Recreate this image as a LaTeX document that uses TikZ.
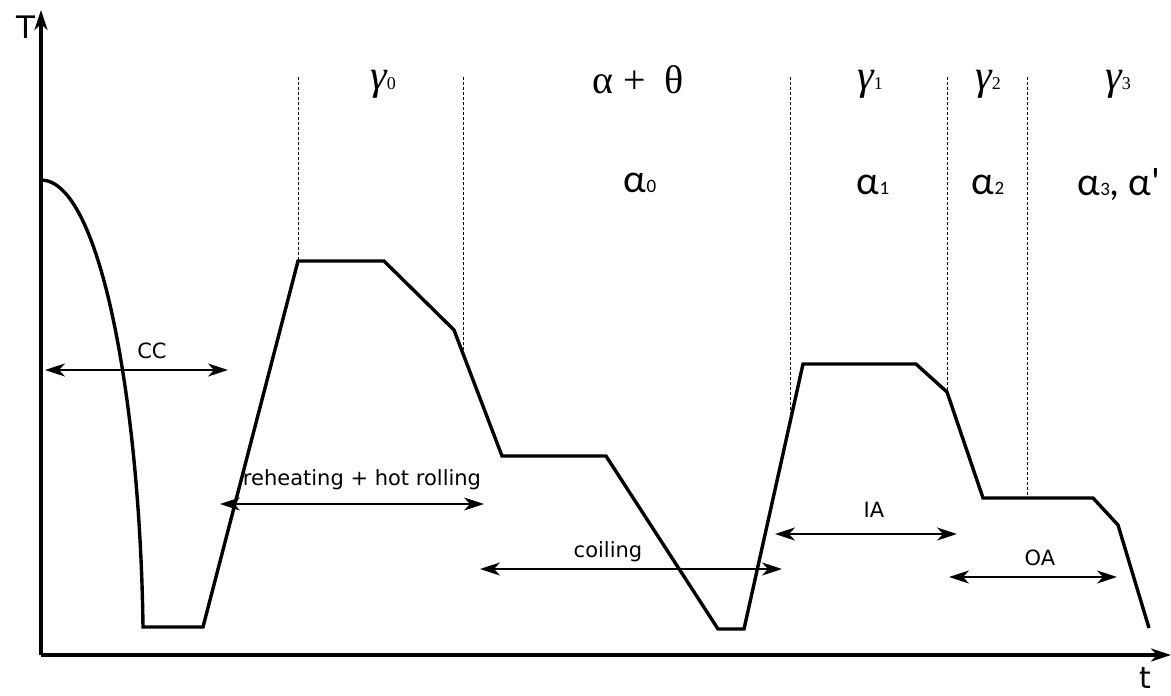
\documentclass[tikz,border=0pt]{standalone}
\usepackage{fontspec}
\setmainfont{DejaVu Sans}
\newfontfamily\grkserif{Liberation Serif}
\newfontfamily\grksans{Carlito}
\usepackage{tikz}
\usetikzlibrary{arrows.meta}
\tikzset{>={Stealth[length=20pt,width=13pt,inset=6pt]}}
\tikzset{
  curve/.style={line width=3.4pt,line join=miter},
  span/.style={<->,line width=2.4pt},
  axis/.style={->,line width=3.4pt},
  phaseline/.style={line width=1pt,dash pattern=on 3pt off 2pt},
  lbl/.style={font=\fontsize{21}{24}\selectfont,inner sep=1pt},
  phase/.style={inner sep=1pt},
}
\newcommand{\gam}[1]{{\grkserif\itshape\fontsize{42}{44}\selectfont γ}{\grkserif\fontsize{18}{18}\selectfont #1}}
\newcommand{\alf}[1]{{\grksans\fontsize{40}{42}\selectfont α}{\grksans\fontsize{19}{19}\selectfont #1}}

\begin{document}
\begin{tikzpicture}[x=1pt,y=-1pt]
\useasboundingbox (0,0) rectangle (1171,696);
% axes
\coordinate (O) at (41,655);
\coordinate (Ttop) at (41,10);
\coordinate (tend) at (1171,655);
\draw[axis] (O) -- (Ttop);
\draw[axis] (O) -- (tend);
\node[font=\fontsize{31}{33}\selectfont,anchor=base,inner sep=0pt] (T) at (26,38) {T};
\node[font=\fontsize{30}{32}\selectfont,anchor=base,inner sep=0pt] (t) at (1145,688) {t};
% phase boundaries
\draw[phaseline] (298,77) -- (298,261);
\draw[phaseline] (463,77) -- (463,353);
\draw[phaseline] (790,77) -- (790,418);
\draw[phaseline] (947,77) -- (947,392);
\draw[phaseline] (1027,77) -- (1027,498);
% thermal path
\draw[curve] (41,180) .. controls (100,180) and (140,400) .. (143,627)
  -- (203,627) -- (298,261) -- (384,261) -- (454,330) -- (502,456)
  -- (606,456) -- (718,629) -- (744,629) -- (803,364) -- (916,364)
  -- (947,392) -- (983,498) -- (1093,498) -- (1118,525) -- (1149,628);
% phases
\node[phase] (g0) at (383,84) {\gam{0}};
\node[phase,font=\grkserif\fontsize{40}{42}\selectfont] (at) at (638,80) {α\hspace{10pt}+\hspace{18pt}θ};
\node[phase] (a0) at (640,183) {\alf{0}};
\node[phase] (g1) at (870,84) {\gam{1}};
\node[phase] (a1) at (873,185) {\alf{1}};
\node[phase] (g2) at (988,84) {\gam{2}};
\node[phase] (a2) at (988,185) {\alf{2}};
\node[phase] (g3) at (1118,84) {\gam{3}};
\node[phase] (a3) at (1119,185) {\alf{3}{\grksans\fontsize{40}{42}\selectfont, α'}};
% process steps
\coordinate (cc1) at (45,370);   \coordinate (cc2) at (228,370);
\coordinate (rh1) at (220,504);  \coordinate (rh2) at (484,504);
\coordinate (co1) at (480,569);  \coordinate (co2) at (782,569);
\coordinate (ia1) at (775,534);  \coordinate (ia2) at (957,534);
\coordinate (oa1) at (949,577);  \coordinate (oa2) at (1117,577);
\draw[span] (cc1) -- (cc2);
\draw[span] (rh1) -- (rh2);
\draw[span] (co1) -- (co2);
\draw[span] (ia1) -- (ia2);
\draw[span] (oa1) -- (oa2);
\node[lbl] (cc) at (152,351) {CC};
\node[lbl] (rh) at (362,480) {reheating + hot rolling};
\node[lbl] (co) at (608,552) {coiling};
\node[lbl] (ia) at (874,510) {IA};
\node[lbl] (oa) at (1040,558) {OA};
\end{tikzpicture}
\end{document}
